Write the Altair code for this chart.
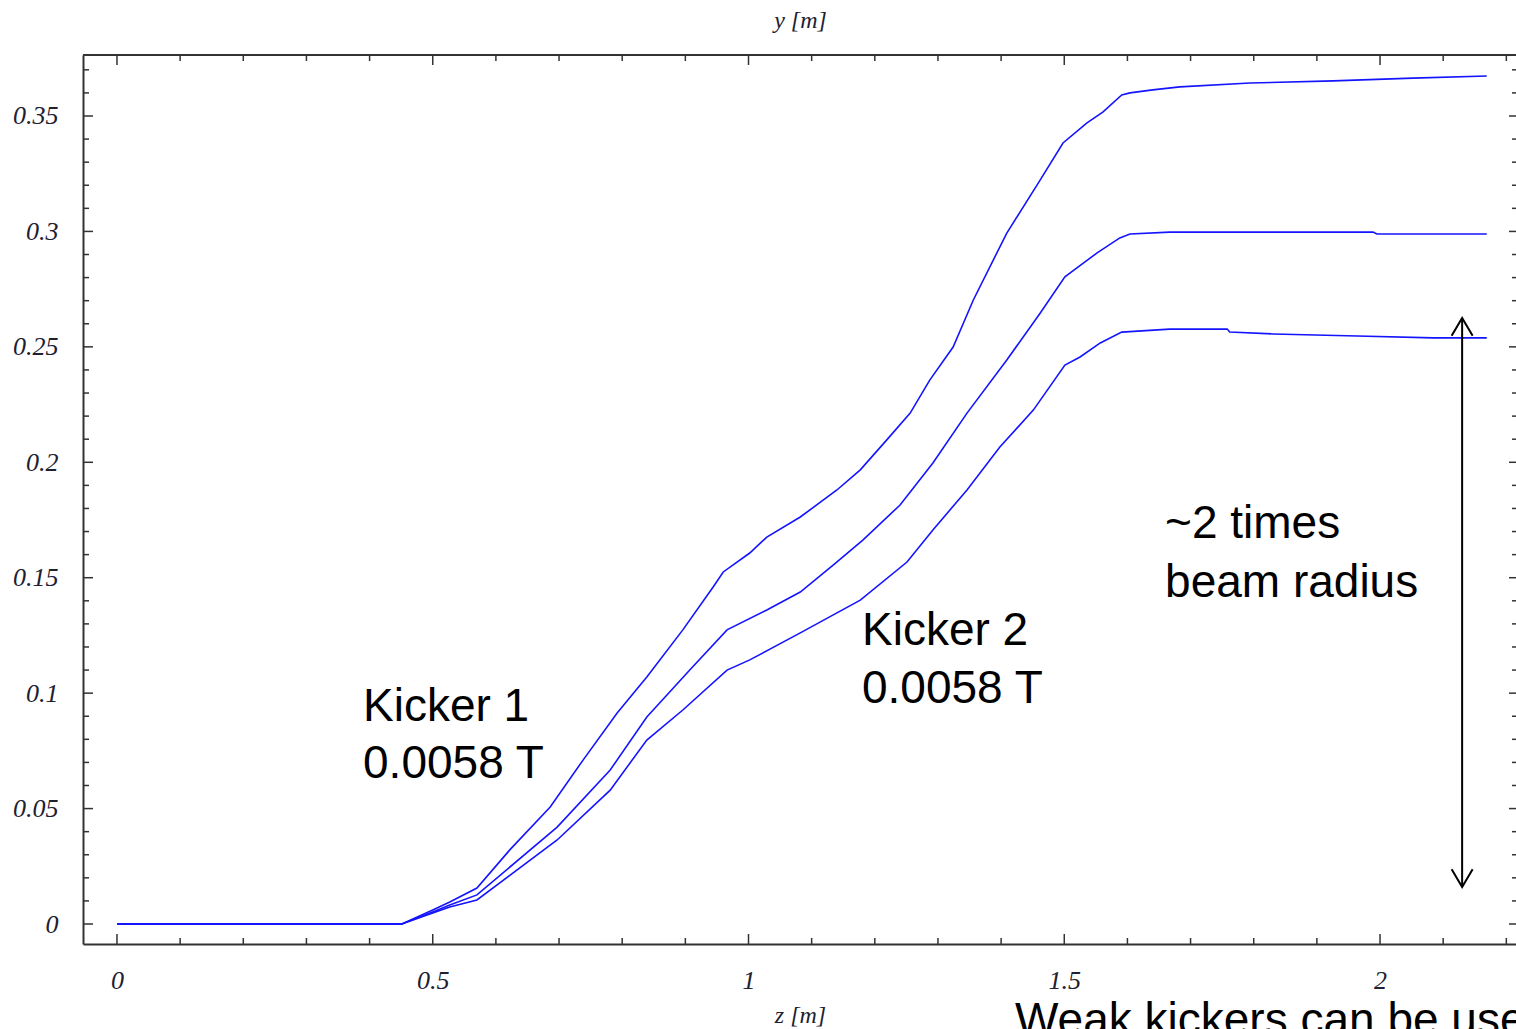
import altair as alt
import pandas as pd

# ---- data ----
upper_z = [0, 0.451, 0.500, 0.527, 0.570, 0.622, 0.686, 0.738, 0.792, 0.839, 0.896, 0.944, 0.960,
           1.002, 1.029, 1.082, 1.140, 1.177, 1.219, 1.256, 1.287, 1.324, 1.356, 1.409, 1.462, 1.498,
           1.536, 1.561, 1.591, 1.604, 1.640, 1.683, 1.794, 1.926, 2.052, 2.169]
upper_y = [0, 0, 0.0061, 0.0095, 0.0156, 0.0321, 0.0507, 0.0710, 0.0914, 0.1070, 0.1274, 0.1460, 0.1525,
           0.1607, 0.1676, 0.1763, 0.1880, 0.1967, 0.2097, 0.2213, 0.2356, 0.2499, 0.2703, 0.2993, 0.3223, 0.3383,
           0.3470, 0.3517, 0.3591, 0.3600, 0.3613, 0.3626, 0.3643, 0.3652, 0.3664, 0.3673]

middle_z = [0, 0.451, 0.500, 0.527, 0.570, 0.697, 0.781, 0.839, 0.907, 0.966, 1.029, 1.082, 1.134,
            1.181, 1.240, 1.292, 1.346, 1.409, 1.462, 1.501, 1.520, 1.552, 1.588, 1.604, 1.667, 1.989,
            1.995, 2.169]
middle_y = [0, 0, 0.0052, 0.0082, 0.0126, 0.0420, 0.0667, 0.0897, 0.1100, 0.1274, 0.1360, 0.1438, 0.1555,
            0.1663, 0.1815, 0.1997, 0.2213, 0.2443, 0.2647, 0.2803, 0.2842, 0.2907, 0.2972, 0.2989, 0.2997, 0.2997,
            0.2989, 0.2989]

lower_z = [0, 0.451, 0.500, 0.527, 0.570, 0.697, 0.781, 0.839, 0.896, 0.966, 1.002, 1.082, 1.177,
           1.251, 1.292, 1.346, 1.398, 1.451, 1.501, 1.525, 1.557, 1.591, 1.667, 1.758, 1.762, 1.831,
           1.964, 2.084, 2.169]
lower_y = [0, 0, 0.0048, 0.0074, 0.0104, 0.0364, 0.0580, 0.0797, 0.0927, 0.1100, 0.1144, 0.1261, 0.1403,
           0.1568, 0.1707, 0.1880, 0.2066, 0.2226, 0.2421, 0.2456, 0.2517, 0.2564, 0.2577, 0.2577, 0.2564, 0.2556,
           0.2547, 0.2539, 0.2539]

# tick positions / labels
x_major = [0, 0.5, 1, 1.5, 2]
x_minor = [0.1, 0.2, 0.3, 0.4, 0.6, 0.7, 0.8, 0.9, 1.1, 1.2, 1.3, 1.4, 1.6, 1.7, 1.8, 1.9, 2.1, 2.2]
y_major = [0, 0.05, 0.1, 0.15, 0.2, 0.25, 0.3, 0.35]
y_minor = [0.01, 0.02, 0.03, 0.04, 0.06, 0.07, 0.08, 0.09, 0.11, 0.12, 0.13, 0.14, 0.16, 0.17, 0.18, 0.19,
           0.21, 0.22, 0.23, 0.24, 0.26, 0.27, 0.28, 0.29, 0.31, 0.32, 0.33, 0.34, 0.36, 0.37]

# annotations
ann_text = ["Kicker 1", "0.0058 T", "Kicker 2", "0.0058 T", "~2 times", "beam radius",
            "Weak kickers can be used"]
ann_z = [0.3896, 0.3896, 1.1797, 1.1797, 1.6596, 1.6596, 1.422]
ann_y = [0.0879, 0.0632, 0.1209, 0.0957, 0.1672, 0.1416, -0.0480]

# double arrow
arrow_z = [2.130, 2.130]
arrow_y = [0.0160, 0.2625]

# ---- build tables ----
rows = []
for name, zs, ys in [("upper", upper_z, upper_y), ("middle", middle_z, middle_y), ("lower", lower_z, lower_y)]:
    for i, (z, y) in enumerate(zip(zs, ys)):
        rows.append({"curve": name, "z": z, "y": y, "order": i})
lines_df = pd.DataFrame(rows)

W, H = 1433, 889
XDOM = [-0.0538, 2.2153]
YDOM = [-0.00866, 0.37642]
xs = alt.Scale(domain=XDOM, nice=False, zero=False)
ys_ = alt.Scale(domain=YDOM, nice=False, zero=False)

FRAME = "#333333"
LABEL = "#202030"
SERIF = "Liberation Serif"
SANS = "Liberation Sans"

x_axis = alt.Axis(values=x_major, format="~g", labelFont=SERIF, labelFontStyle="italic",
                  labelFontSize=26, labelColor=LABEL, ticks=False, tickSize=0, grid=False,
                  domain=True, domainColor=FRAME, domainWidth=2, labelPadding=44,
                  labelBaseline="alphabetic", labelAlign="center",
                  title="z [m]", titleFont=SERIF, titleFontStyle="italic", titleFontWeight="normal",
                  titleFontSize=24, titleColor=LABEL, titleX=717, titleY=78,
                  titleBaseline="alphabetic", titleAlign="center")
y_axis = alt.Axis(values=y_major, format=".2~f", labelFont=SERIF, labelFontStyle="italic",
                  labelFontSize=26, labelColor=LABEL, ticks=False, tickSize=0, grid=False,
                  domain=True, domainColor=FRAME, domainWidth=2, labelPadding=25,
                  labelBaseline="middle", labelAlign="right",
                  title="y [m]", titleFont=SERIF, titleFontStyle="italic", titleFontWeight="normal",
                  titleFontSize=24, titleColor=LABEL, titleAngle=0, titleX=717, titleY=-28,
                  titleBaseline="alphabetic", titleAlign="center")


def X(field):
    return alt.X(field, scale=xs, axis=x_axis)


def Y(field):
    return alt.Y(field, scale=ys_, axis=y_axis)


lines = alt.Chart(lines_df).mark_line(color="#1414ff", strokeWidth=1.6).encode(
    x=X("z:Q"), y=Y("y:Q"), detail="curve:N", order="order:Q",
)

xmaj = pd.DataFrame({"v": x_major})
xmin = pd.DataFrame({"v": x_minor})
ymaj = pd.DataFrame({"v": y_major})
ymin = pd.DataFrame({"v": y_minor})


def xticks(df, y0, y1):
    return alt.Chart(df).mark_rule(color=FRAME, strokeWidth=1.5).encode(
        x=X("v:Q"), y=alt.value(y0), y2=alt.value(y1))


def yticks(df, x0, x1):
    return alt.Chart(df).mark_rule(color=FRAME, strokeWidth=1.5).encode(
        y=Y("v:Q"), x=alt.value(x0), x2=alt.value(x1))


ticks = [
    xticks(xmaj, 0, 10), xticks(xmin, 0, 6),
    xticks(xmaj, H, H - 10), xticks(xmin, H, H - 6),
    yticks(ymaj, 0, 10), yticks(ymin, 0, 6),
    yticks(ymaj, W, W - 7), yticks(ymin, W, W - 4),
]

top_frame = alt.Chart(pd.DataFrame({"a": [0]})).mark_rule(color=FRAME, strokeWidth=2).encode(
    x=alt.value(0), x2=alt.value(W), y=alt.value(0))

ann = alt.Chart(pd.DataFrame({"t": ann_text, "z": ann_z, "y": ann_y})).mark_text(
    font=SANS, fontSize=46, color="black", align="left", baseline="alphabetic").encode(
    x=X("z:Q"), y=Y("y:Q"), text="t:N")

arrow_df = pd.DataFrame({"z": arrow_z, "y": arrow_y})
arrow_line = alt.Chart(arrow_df).mark_line(color="black", strokeWidth=2).encode(
    x=X("z:Q"), y=Y("y:Q"))
head_up = alt.Chart(pd.DataFrame({"z": [arrow_z[1]], "y": [arrow_y[1]]})).mark_point(
    shape="M -1 1.7 L 0 0 L 1 1.7", filled=False, color="black", strokeWidth=2, size=441, opacity=1).encode(
    x=X("z:Q"), y=Y("y:Q"))
head_down = alt.Chart(pd.DataFrame({"z": [arrow_z[0]], "y": [arrow_y[0]]})).mark_point(
    shape="M -1 -1.7 L 0 0 L 1 -1.7", filled=False, color="black", strokeWidth=2, size=441, opacity=1).encode(
    x=X("z:Q"), y=Y("y:Q"))

chart = alt.layer(lines, *ticks, top_frame, ann, arrow_line, head_up, head_down).properties(
    width=W, height=H,
    autosize=alt.AutoSizeParams(type="none"),
    padding={"left": 83, "top": 55, "right": 0, "bottom": 85},
    background="white",
).configure_view(stroke=None)

chart.save("out.html", embed_options={"renderer": "svg", "actions": False})
